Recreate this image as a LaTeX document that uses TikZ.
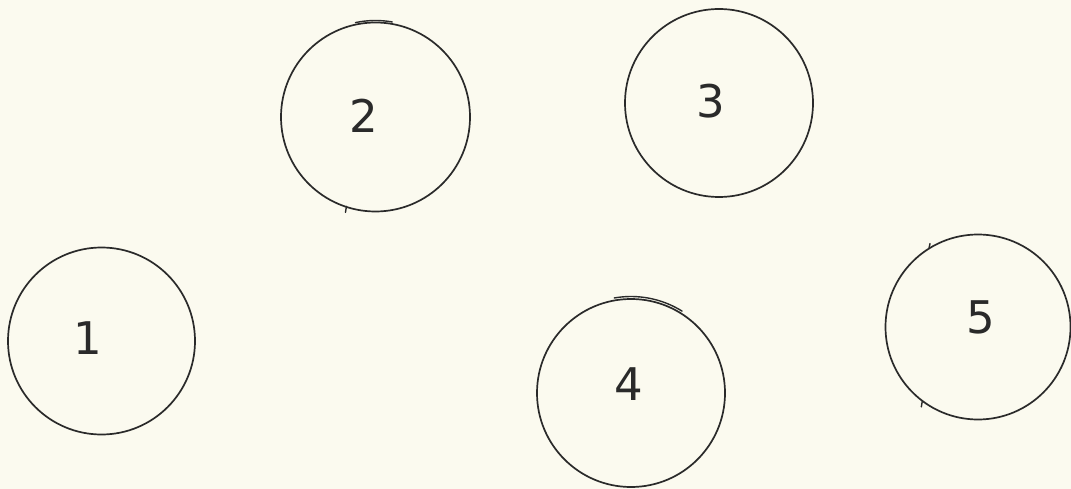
\documentclass[tikz,border=0pt]{standalone}
\usepackage{fontspec}
\setsansfont{DejaVu Sans}
\definecolor{paper}{HTML}{FBFAEF}
\definecolor{ink}{HTML}{2A2A2A}
\begin{document}
\begin{tikzpicture}[x=1pt,y=-1pt,
  ring/.style={circle,draw=ink,line width=1.7pt,minimum size=#1,inner sep=0pt},
  ring/.default=188pt,
  digit/.style={text=ink,font=\sffamily\fontsize{45}{45}\selectfont,inner sep=0pt},
  extra/.style={draw=ink,line width=1.4pt,line cap=round}]
\fill[paper] (0,0) rectangle (1071,489);
\useasboundingbox (0,0) rectangle (1071,489);
% circles
\node[ring=187pt] (c1) at (101.5,341) {};
\node[ring=189pt] (c2) at (375.5,117) {};
\node[ring=188pt] (c3) at (719,103) {};
\node[ring=188pt] (c4) at (631,393) {};
\node[ring=185pt] (c5) at (978,327) {};
% hand-drawn overlaps
\draw[extra] (c2.center) ++(-80:96.5) arc[start angle=-80,end angle=-102,radius=96.5];
\draw[extra] (c2.center) ++(108:94) -- ++(-1,6);
\draw[extra] (c4.center) ++(-58:96.5) arc[start angle=-58,end angle=-100,radius=96.5];
\draw[extra] (c3.center) ++(-172:94.5) -- ++(0,10);
\draw[extra] (c5.center) ++(127:92.5) -- ++(-1,6);
\draw[extra] (c5.center) ++(-122:92.5) -- ++(1,-5);
% labels
\node[digit] (l1) at (88,338) {1};
\node[digit] (l2) at (364,116) {2};
\node[digit] (l3) at (711,101) {3};
\node[digit] (l4) at (629,384) {4};
\node[digit] (l5) at (981,317) {5};
\end{tikzpicture}
\end{document}
